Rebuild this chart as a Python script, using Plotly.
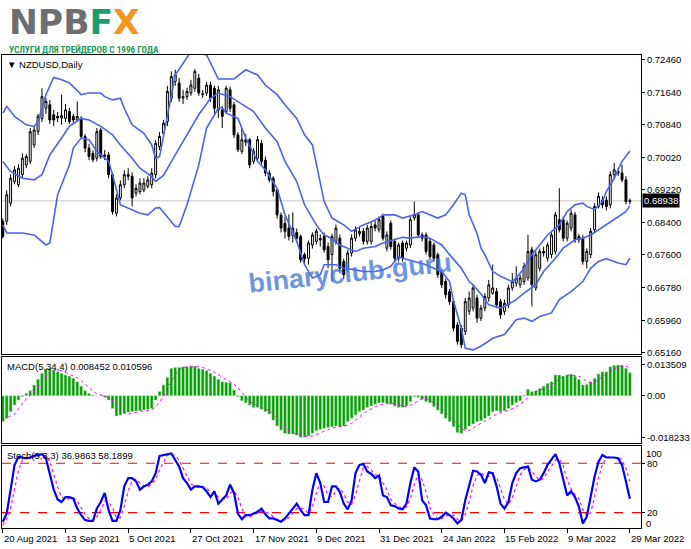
import plotly.graph_objects as go
from plotly.subplots import make_subplots

# NZDUSD Daily, 20 Aug 2021 .. 29 Mar 2022
open_ = [
    .6843, .6843, .6888, .6942, .6934, .6959, .6983, .6992, .7033, .7066,
    .7099, .7124, .7133, .7108, .7104, .7100, .7099, .7116, .7104, .7095,
    .7099, .7054, .7025, .7012, .7000, .7070, .7004, .7008, .6959, .6863,
    .6901, .6934, .6959, .6955, .6913, .6917, .6921, .6930, .6934, .6959,
    .7029, .7062, .7091, .7149, .7191, .7187, .7153, .7153, .7162, .7174,
    .7199, .7158, .7162, .7182, .7174, .7120, .7120, .7116, .7170, .7133,
    .7058, .7017, .7046, .7046, .6992, .7000, .7037, .6995, .6963, .6950,
    .6921, .6858, .6838, .6826, .6808, .6815, .6805, .6760, .6751, .6784,
    .6793, .6800, .6805, .6780, .6760, .6793, .6801, .6743, .6726, .6764,
    .6801, .6812, .6818, .6793, .6793, .6834, .6822, .6855, .6776, .6838,
    .6793, .6751, .6789, .6776, .6784, .6851, .6859, .6809, .6809, .6793,
    .6784, .6760, .6718, .6693, .6668, .6643, .6585, .6577, .6569, .6619,
    .6627, .6652, .6602, .6627, .6652, .6664, .6668, .6643, .6619, .6635,
    .6677, .6689, .6685, .6693, .6702, .6772, .6677, .6726, .6768, .6751,
    .6760, .6768, .6847, .6847, .6801, .6826, .6859, .6805, .6801, .6743,
    .6760, .6822, .6880, .6896, .6896, .6884, .6959, .6967, .6963, .6946,
    .6892,
]
high = [
    .6850, .6920, .6960, .6980, .6985, .7012, .7010, .7075, .7080, .7110,
    .7174, .7150, .7145, .7120, .7115, .7158, .7135, .7125, .7110, .7141,
    .7105, .7060, .7035, .7020, .7075, .7075, .7020, .7015, .6965, .6910,
    .6945, .6970, .6975, .6965, .6935, .6950, .6950, .6955, .6975, .7045,
    .7065, .7095, .7180, .7216, .7220, .7200, .7170, .7175, .7195, .7222,
    .7210, .7170, .7190, .7190, .7180, .7180, .7130, .7180, .7178, .7140,
    .7065, .7075, .7060, .7050, .7025, .7055, .7045, .7004, .6970, .6955,
    .6925, .6865, .6855, .6860, .6865, .6825, .6810, .6765, .6795, .6815,
    .6825, .6810, .6815, .6790, .6812, .6835, .6810, .6750, .6772, .6810,
    .6830, .6830, .6826, .6834, .6840, .6845, .6855, .6862, .6818, .6845,
    .6800, .6790, .6795, .6795, .6855, .6892, .6866, .6815, .6815, .6800,
    .6790, .6765, .6725, .6700, .6675, .6650, .6592, .6585, .6652, .6668,
    .6685, .6660, .6635, .6664, .6697, .6735, .6677, .6650, .6648, .6685,
    .6714, .6731, .6710, .6740, .6809, .6780, .6768, .6775, .6780, .6790,
    .6815, .6866, .6925, .6855, .6845, .6871, .6866, .6812, .6809, .6776,
    .6826, .6888, .6915, .6905, .6905, .6967, .6988, .6975, .6984, .6955,
    .6900,
]
low = [
    .6800, .6834, .6880, .6935, .6928, .6950, .6975, .6985, .7025, .7058,
    .7090, .7110, .7085, .7080, .7090, .7083, .7090, .7085, .7088, .7090,
    .7048, .7015, .6995, .6990, .6992, .6998, .6995, .6950, .6860, .6855,
    .6895, .6925, .6945, .6880, .6905, .6910, .6915, .6925, .6925, .6950,
    .7020, .7055, .7080, .7140, .7180, .7140, .7135, .7145, .7155, .7165,
    .7155, .7150, .7155, .7140, .7110, .7100, .7075, .7110, .7115, .7050,
    .7015, .7010, .7030, .6975, .6985, .6995, .6985, .6955, .6940, .6905,
    .6850, .6815, .6800, .6795, .6790, .6790, .6740, .6735, .6735, .6775,
    .6785, .6780, .6765, .6726, .6693, .6785, .6718, .6700, .6718, .6755,
    .6793, .6805, .6785, .6785, .6785, .6818, .6815, .6795, .6768, .6772,
    .6743, .6743, .6743, .6768, .6776, .6845, .6802, .6793, .6760, .6747,
    .6743, .6702, .6677, .6650, .6635, .6569, .6536, .6527, .6560, .6610,
    .6619, .6590, .6595, .6619, .6643, .6660, .6627, .6600, .6610, .6627,
    .6670, .6680, .6677, .6685, .6695, .6631, .6670, .6718, .6755, .6743,
    .6751, .6760, .6815, .6793, .6793, .6818, .6789, .6789, .6735, .6726,
    .6751, .6815, .6875, .6875, .6870, .6875, .6950, .6955, .6940, .6885,
    .6885,
]
close = [
    .6805, .6909, .6950, .6971, .6975, .7000, .7004, .7066, .7070, .7104,
    .7153, .7141, .7095, .7095, .7100, .7106, .7120, .7091, .7095, .7104,
    .7054, .7025, .7004, .6996, .7066, .7004, .7008, .6959, .6867, .6901,
    .6934, .6959, .6955, .6901, .6925, .6938, .6938, .6946, .6963, .7037,
    .7054, .7087, .7166, .7203, .7207, .7149, .7150, .7166, .7182, .7216,
    .7162, .7160, .7182, .7149, .7124, .7170, .7104, .7174, .7124, .7058,
    .7021, .7046, .7040, .6983, .7017, .7046, .6992, .6963, .6946, .6917,
    .6859, .6826, .6818, .6805, .6826, .6801, .6747, .6750, .6789, .6809,
    .6818, .6797, .6772, .6747, .6805, .6826, .6726, .6710, .6764, .6801,
    .6822, .6818, .6793, .6826, .6830, .6826, .6847, .6801, .6809, .6780,
    .6751, .6784, .6751, .6789, .6847, .6859, .6809, .6801, .6768, .6755,
    .6751, .6710, .6685, .6660, .6643, .6577, .6544, .6536, .6643, .6652,
    .6677, .6602, .6627, .6656, .6685, .6677, .6635, .6610, .6639, .6677,
    .6693, .6702, .6702, .6731, .6768, .6685, .6760, .6768, .6764, .6784,
    .6809, .6859, .6822, .6801, .6838, .6863, .6797, .6797, .6743, .6768,
    .6818, .6880, .6905, .6884, .6880, .6959, .6971, .6963, .6946, .6892,
    .68938,
]

# Bollinger bands, read at the bars where each line bends
bb_upper_idx = [0, 1, 3, 6, 8, 9, 11, 13, 15, 17, 20, 22, 25, 26, 28, 30, 31, 33, 36, 38,
                39, 40, 44, 48, 52, 55, 59, 62, 65, 67, 70, 72, 75, 77, 79, 80, 82, 84, 87, 89,
                92, 94, 96, 97, 100, 102, 105, 107, 109, 111, 113, 115, 117, 118, 119, 121, 122, 123, 125, 127,
                130, 131, 133, 135, 137, 139, 142, 144, 146, 148, 149, 151, 153, 154, 156, 158, 160]
bb_upper = [.7112, .7129, .7104, .7083, .7079, .7091, .7158, .7201, .7195, .7187, .7158, .7162, .7162, .7153, .7145, .7149, .7124, .7083, .7062, .7033,
            .7000, .7004, .7207, .7265, .7257, .7197, .7197, .7220, .7207, .7182, .7158, .7133, .7099, .7058, .7033, .6983, .6892, .6851, .6834, .6818,
            .6834, .6842, .6851, .6859, .6859, .6851, .6859, .6867, .6859, .6851, .6859, .6884, .6913, .6909, .6859, .6813, .6776, .6760, .6718, .6706,
            .6693, .6702, .6726, .6760, .6784, .6809, .6834, .6867, .6884, .6888, .6880, .6872, .6892, .6917, .6950, .6992, .7018]

bb_middle_idx = [0, 2, 5, 8, 10, 12, 15, 17, 20, 22, 25, 28, 30, 33, 35, 38, 39, 41, 45, 50,
                 53, 55, 58, 60, 64, 67, 70, 72, 75, 77, 80, 82, 83, 86, 88, 90, 92, 95, 97, 100,
                 102, 104, 107, 109, 112, 114, 117, 119, 120, 122, 124, 127, 128, 131, 133, 136, 138, 141, 143, 146,
                 148, 150, 152, 154, 156, 159, 160]
bb_middle = [.6992, .6967, .6950, .6946, .6959, .7008, .7050, .7079, .7099, .7095, .7079, .7058, .7033, .7000, .6975, .6954, .6942, .6957, .7025, .7108,
             .7149, .7162, .7153, .7141, .7116, .7075, .7041, .6992, .6942, .6884, .6834, .6808, .6805, .6784, .6776, .6768, .6776, .6780, .6789, .6797,
             .6803, .6801, .6805, .6801, .6784, .6760, .6726, .6693, .6685, .6662, .6635, .6627, .6631, .6648, .6664, .6685, .6718, .6751, .6776, .6797,
             .6801, .6809, .6822, .6834, .6847, .6867, .6882]

bb_lower_idx = [0, 1, 5, 8, 11, 12, 14, 17, 18, 20, 22, 24, 27, 28, 30, 32, 35, 37, 39, 40,
                44, 45, 47, 50, 52, 55, 56, 57, 60, 62, 65, 67, 70, 72, 75, 77, 79, 81, 82, 85,
                87, 90, 92, 95, 97, 99, 101, 102, 105, 108, 110, 112, 114, 115, 117, 118, 120, 122, 125, 128,
                131, 133, 135, 137, 140, 142, 145, 148, 150, 152, 154, 157, 159, 160]
bb_lower = [.6834, .6814, .6814, .6809, .6784, .6789, .6909, .6983, .7025, .7050, .7046, .7017, .6992, .6959, .6884, .6876, .6863, .6859, .6876, .6877,
            .6830, .6830, .6884, .6983, .7075, .7124, .7126, .7112, .7099, .7050, .6992, .6971, .6925, .6859, .6793, .6735, .6702, .6710, .6735, .6735,
            .6726, .6722, .6718, .6718, .6722, .6731, .6755, .6751, .6743, .6735, .6726, .6718, .6693, .6644, .6577, .6527, .6523, .6532, .6552, .6561,
            .6598, .6602, .6594, .6606, .6615, .6648, .6668, .6693, .6726, .6743, .6750, .6739, .6735, .6751]

# MACD(5,34,4): main histogram and signal line
macd_main = [
    -.0114, -.0099, -.0070, -.0041, -.0019, -.0004, .0010, .0022, .0047, .0072,
    .0098, .0116, .0120, .0113, .0105, .0098, .0091, .0086, .0076, .0061,
    .0042, .0022, .0010, .0003, .0000, -.0001, -.0007, -.0019, -.0056, -.0089,
    -.0085, -.0078, -.0073, -.0070, -.0067, -.0066, -.0063, -.0060, -.0056, -.0019,
    .0018, .0047, .0080, .0120, .0124, .0124, .0127, .0127, .0130, .0130,
    .0120, .0116, .0110, .0098, .0086, .0072, .0061, .0059, .0057, .0025,
    -.0004, -.0022, -.0031, -.0041, -.0051, -.0051, -.0060, -.0070, -.0080, -.0107,
    -.0133, -.0151, -.0165, -.0168, -.0168, -.0173, -.0183, -.0182, -.0177, -.0165,
    -.0154, -.0148, -.0143, -.0139, -.0136, -.0133, -.0136, -.0133, -.0114, -.0099,
    -.0085, -.0070, -.0063, -.0051, -.0045, -.0037, -.0031, -.0031, -.0034, -.0037,
    -.0045, -.0051, -.0051, -.0045, -.0026, -.0004, -.0007, -.0016, -.0026, -.0031,
    -.0048, -.0063, -.0080, -.0099, -.0114, -.0136, -.0162, -.0165, -.0148, -.0133,
    -.0124, -.0114, -.0110, -.0099, -.0089, -.0070, -.0066, -.0070, -.0066, -.0056,
    -.0041, -.0031, -.0022, .0003, .0028, .0018, .0022, .0032, .0042, .0054,
    .0061, .0091, .0091, .0086, .0091, .0095, .0086, .0072, .0047, .0050,
    .0061, .0076, .0095, .0105, .0105, .0127, .0133, .0135, .0132, .0120,
    .0101,
]
macd_signal = [
    -.0105, -.0100, -.0088, -.0081, -.0057, -.0034, -.0013, .0002, .0019, .0038,
    .0060, .0083, .0102, .0112, .0114, .0109, .0102, .0095, .0088, .0079,
    .0066, .0050, .0034, .0019, .0009, .0003, -.0001, -.0007, -.0021, -.0043,
    -.0062, -.0077, -.0081, -.0077, -.0072, -.0069, -.0067, -.0064, -.0061, -.0050,
    -.0029, -.0003, .0032, .0066, .0093, .0112, .0124, .0126, .0127, .0129,
    .0127, .0124, .0119, .0111, .0103, .0092, .0079, .0070, .0062, .0051,
    .0034, .0014, -.0008, -.0025, -.0036, -.0044, -.0051, -.0058, -.0065, -.0079,
    -.0098, -.0118, -.0139, -.0154, -.0163, -.0169, -.0173, -.0177, -.0179, -.0177,
    -.0170, -.0161, -.0153, -.0146, -.0142, -.0138, -.0136, -.0135, -.0129, -.0121,
    -.0108, -.0092, -.0079, -.0067, -.0057, -.0049, -.0041, -.0036, -.0033, -.0033,
    -.0037, -.0042, -.0046, -.0048, -.0043, -.0032, -.0021, -.0013, -.0013, -.0020,
    -.0030, -.0042, -.0056, -.0073, -.0089, -.0107, -.0128, -.0144, -.0153, -.0152,
    -.0143, -.0130, -.0120, -.0112, -.0103, -.0092, -.0081, -.0074, -.0068, -.0065,
    -.0058, -.0049, -.0038, -.0023, -.0006, .0007, .0018, .0025, .0029, .0038,
    .0047, .0062, .0074, .0082, .0090, .0091, .0090, .0086, .0075, .0064,
    .0058, .0059, .0071, .0084, .0095, .0108, .0118, .0125, .0132, .0130,
    .0122,
]

# Stochastic(5,3,3): %K and %D
stoch_k = [
    9, 19, 48, 78, 88, 87, 86, 87, 89, 90,
    91, 86, 68, 48, 36, 33, 39, 39, 37, 25,
    17, 11, 10, 10, 25, 33, 44, 23, 10, 10,
    23, 52, 62, 62, 58, 48, 52, 54, 58, 68,
    89, 90, 91, 92, 84, 76, 62, 56, 48, 52,
    52, 51, 46, 39, 46, 31, 36, 41, 54, 44,
    19, 12, 17, 17, 19, 21, 25, 18, 13, 13,
    11, 9, 13, 19, 24, 31, 23, 17, 17, 48,
    68, 56, 33, 33, 52, 52, 45, 31, 24, 35,
    68, 78, 79, 70, 67, 62, 65, 41, 39, 29,
    28, 25, 24, 31, 56, 75, 70, 35, 29, 13,
    12, 12, 15, 20, 17, 13, 7, 11, 35, 54,
    71, 70, 66, 56, 69, 68, 52, 31, 25, 33,
    56, 68, 74, 75, 76, 60, 58, 60, 68, 78,
    84, 91, 80, 60, 41, 46, 39, 27, 7, 15,
    39, 64, 82, 90, 87, 87, 87, 86, 78, 58,
    37,
]
stoch_d = [
    5, 12, 25, 48, 71, 84, 87, 87, 87, 89,
    90, 89, 82, 67, 51, 39, 36, 37, 38, 34,
    26, 18, 13, 10, 15, 23, 34, 33, 26, 14,
    14, 28, 46, 59, 61, 56, 53, 51, 55, 60,
    72, 82, 90, 91, 89, 84, 74, 65, 55, 52,
    51, 52, 50, 45, 44, 39, 38, 36, 44, 46,
    39, 25, 16, 15, 18, 19, 22, 21, 19, 15,
    12, 11, 11, 14, 19, 25, 26, 24, 19, 27,
    44, 57, 52, 41, 39, 46, 50, 43, 33, 30,
    42, 60, 75, 76, 72, 66, 65, 56, 48, 36,
    32, 27, 26, 27, 37, 54, 67, 60, 45, 26,
    18, 12, 13, 16, 17, 17, 12, 10, 18, 33,
    53, 65, 69, 64, 64, 64, 63, 50, 36, 30,
    38, 52, 66, 72, 75, 70, 65, 59, 62, 69,
    77, 84, 85, 77, 60, 49, 42, 37, 24, 16,
    20, 39, 62, 79, 86, 88, 87, 87, 84, 74,
    58,
]
stoch_levels = [80, 20]

# axis labels
price_ticks = [0.72460, 0.71640, 0.70840, 0.70020, 0.69220, 0.68400, 0.67600, 0.66780, 0.65960, 0.65160]
macd_ticks = [0.013509, 0.0, -0.018233]
macd_tick_text = ["0.013509", "0.00", "-0.018233"]
date_idx = [0, 16, 32, 48, 64, 80, 96, 112, 128, 144, 160]
date_text = ["20 Aug 2021", "13 Sep 2021", "5 Oct 2021", "27 Oct 2021", "17 Nov 2021", "9 Dec 2021",
             "31 Dec 2021", "24 Jan 2022", "15 Feb 2022", "9 Mar 2022", "29 Mar 2022"]

bars = list(range(len(close)))

FONT = "Liberation Sans, Arial, sans-serif"
BAND = "#4a63f0"

fig = make_subplots(rows=3, cols=1, shared_xaxes=True)

# price panel
fig.add_trace(go.Candlestick(
    x=bars, open=open_, high=high, low=low, close=close,
    increasing=dict(line=dict(color="black", width=1), fillcolor="white"),
    decreasing=dict(line=dict(color="black", width=1), fillcolor="black"),
    whiskerwidth=0, hoverinfo="skip"), row=1, col=1)
for xs, ys in [(bb_upper_idx, bb_upper), (bb_middle_idx, bb_middle), (bb_lower_idx, bb_lower)]:
    fig.add_trace(go.Scatter(x=xs, y=ys, mode="lines", line=dict(color=BAND, width=1.6),
                             hoverinfo="skip"), row=1, col=1)

# MACD panel
fig.add_trace(go.Bar(x=bars, y=macd_main, marker=dict(color="#00a000", line=dict(color="#a6d8a6", width=0.5)),
                     hoverinfo="skip"), row=2, col=1)
fig.add_trace(go.Scatter(x=bars, y=macd_signal, mode="lines",
                         line=dict(color="#ff00ff", width=1, dash="dot"), hoverinfo="skip"), row=2, col=1)

# Stochastic panel
fig.add_trace(go.Scatter(x=bars, y=stoch_d, mode="lines",
                         line=dict(color="#ff00ff", width=1.2, dash="dot"), hoverinfo="skip"), row=3, col=1)
fig.add_trace(go.Scatter(x=bars, y=stoch_k, mode="lines",
                         line=dict(color="#0000ff", width=2.2), hoverinfo="skip"), row=3, col=1)

frame = dict(showgrid=False, zeroline=False, showline=True, mirror=True, linecolor="black", linewidth=1)
x_range = [-0.2, 162.84]
fig.update_layout(
    width=691, height=549,
    margin=dict(l=1, r=45, t=55, b=21),
    paper_bgcolor="white", plot_bgcolor="white",
    showlegend=False, bargap=0.3, hovermode=False,
    font=dict(family=FONT, size=9.5, color="black"),
    xaxis=dict(range=x_range, showticklabels=False, rangeslider=dict(visible=False), **frame),
    xaxis2=dict(range=x_range, showticklabels=False, **frame),
    xaxis3=dict(range=x_range, showticklabels=False, ticks="outside", tickvals=date_idx,
                ticklen=4, tickcolor="black", **frame),
    yaxis=dict(domain=[0.3679, 1.0], range=[0.65128, 0.72567], side="right",
               tickvals=price_ticks, ticktext=[f"{v:.5f}" for v in price_ticks],
               ticks="outside", ticklen=3, tickcolor="black", **frame),
    yaxis2=dict(domain=[0.1797, 0.3615], range=[-0.02076, 0.01699], side="right",
                tickvals=macd_ticks, ticktext=macd_tick_text,
                ticks="outside", ticklen=3, tickcolor="black", **frame),
    yaxis3=dict(domain=[0.0, 0.1734], range=[1.4, 101.0], side="right",
                tickvals=stoch_levels, ticks="outside", ticklen=3, tickcolor="black", **frame),
)

shapes = [dict(type="line", xref="x domain", x0=0, x1=1, yref="y", y0=close[-1], y1=close[-1],
               line=dict(color="#c4c4c4", width=1), layer="below")]
for lvl in stoch_levels:
    shapes.append(dict(type="line", xref="x3 domain", x0=0, x1=1, yref="y3", y0=lvl, y1=lvl,
                       line=dict(color="#ff0000", width=1.2, dash="dash"), layer="below"))
fig.update_layout(shapes=shapes)

ann = []
# panel captions
ann.append(dict(xref="x domain", yref="y domain", x=0, y=1, xanchor="left", yanchor="top",
                xshift=3, yshift=-2, text="▼ NZDUSD,Daily", showarrow=False))
ann.append(dict(xref="x2 domain", yref="y2 domain", x=0, y=1, xanchor="left", yanchor="top",
                xshift=3, yshift=-2, text="MACD(5,34,4) 0.008452 0.010596", showarrow=False))
ann.append(dict(xref="x3 domain", yref="y3 domain", x=0, y=1, xanchor="left", yanchor="top",
                xshift=3, yshift=-2, text="Stoch(5,3,3) 36.9863 58.1899", showarrow=False))
# stochastic min/max labels sit inside the panel edges like MT4 does
ann.append(dict(xref="paper", yref="y3 domain", x=1, y=1, xanchor="left", yanchor="top",
                xshift=3, text="100", showarrow=False))
ann.append(dict(xref="paper", yref="y3 domain", x=1, y=0, xanchor="left", yanchor="bottom",
                xshift=3, yshift=-3, text="0", showarrow=False))
# last price box
ann.append(dict(xref="paper", yref="y", x=1, y=close[-1], xanchor="left", yanchor="middle",
                xshift=1, text=f"{close[-1]:.5f}", showarrow=False, bgcolor="black",
                font=dict(color="white", size=9.5, family=FONT)))
# date labels
for i, t in zip(date_idx, date_text):
    ann.append(dict(xref="x3", yref="paper", x=i, y=0, xanchor="left", yanchor="top",
                    xshift=-1, yshift=-3, text=t, showarrow=False))
# watermark
ann.append(dict(xref="paper", yref="paper", x=0.545, y=0.54, text="binaryclub.guru", showarrow=False,
                textangle=-6, font=dict(family=FONT, size=27, color="rgba(70,120,215,0.78)", weight="bold")))
# logo
ann.append(dict(xref="paper", yref="paper", x=0, y=1, xanchor="left", yanchor="top", xshift=5, yshift=55,
                text="NPB<span style='color:#1a9d6c'>F</span><span style='color:#f7941d'>X</span>",
                showarrow=False, font=dict(family="DejaVu Sans, Arial, sans-serif", size=34.5,
                                           color="#6d6e71", weight="bold")))
ann.append(dict(xref="paper", yref="paper", x=0, y=1, xanchor="left", yanchor="top", xshift=5, yshift=12.7,
                text="УСЛУГИ ДЛЯ ТРЕЙДЕРОВ С 1996 ГОДА", showarrow=False,
                font=dict(family="Liberation Sans Narrow, Roboto Condensed, Liberation Sans, sans-serif",
                          size=9.2, color="#1d9a5a", weight="bold")))
fig.update_layout(annotations=ann)

# page has a default body margin; drop it so the figure sits at the window corner
fig.write_html("out.html", config={"displayModeBar": False},
               post_script="document.body.style.margin='0';document.body.style.overflow='hidden';")
